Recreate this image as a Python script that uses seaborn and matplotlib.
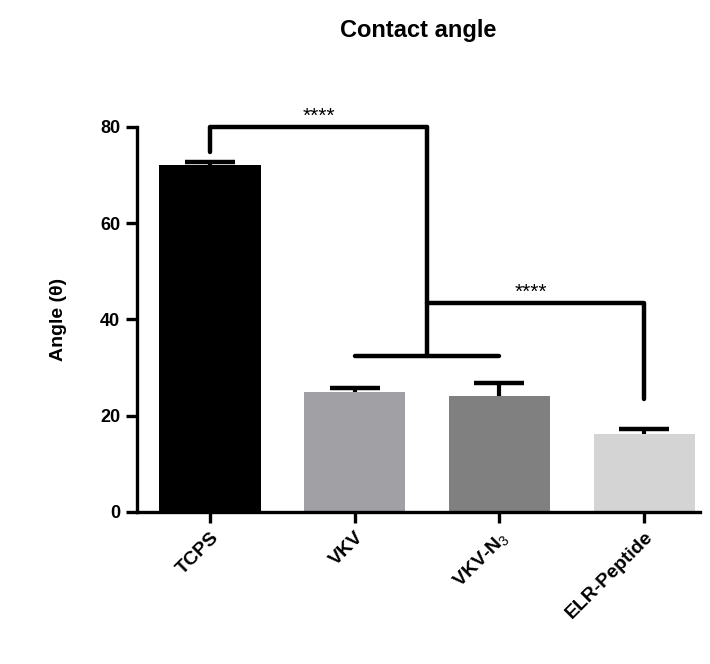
import pandas as pd
import matplotlib
matplotlib.use("Agg")
import matplotlib.pyplot as plt
import seaborn as sns

# Data
groups = ["TCPS", "VKV", "VKV-N$_3$", "ELR-Peptide"]
means = [72.1, 24.9, 24.0, 16.2]
errors = [0.5, 0.9, 2.7, 1.0]
bar_colors = ["#000000", "#a1a1a5", "#808080", "#d4d4d4"]

# significance brackets (y levels in data units)
bracket1_top = 80.0
bracket1_left_end = 74.8
bracket1_drop = 32.3
bracket2_top = 43.5
bracket2_right_end = 23.5
stars = "****"


def main():
    sns.set_theme(style="white")
    plt.rcParams["font.family"] = ["Liberation Sans", "DejaVu Sans"]
    plt.rcParams["mathtext.fontset"] = "custom"
    plt.rcParams["mathtext.rm"] = "Liberation Sans"
    plt.rcParams["text.color"] = "black"
    plt.rcParams["axes.labelcolor"] = "black"
    plt.rcParams["xtick.color"] = "black"
    plt.rcParams["ytick.color"] = "black"

    df = pd.DataFrame({"group": groups, "angle": means})

    fig = plt.figure(figsize=(7.1, 6.64), dpi=100)
    ax = fig.add_axes([0.193, 0.229, 0.793, 0.58])

    sns.barplot(data=df, x="group", y="angle", hue="group", palette=bar_colors,
                width=0.70, errorbar=None, legend=False, ax=ax, zorder=2,
                linewidth=0)

    x = list(range(len(groups)))
    # upper error bars only (GraphPad style)
    eb = ax.errorbar(x, means, yerr=[[0] * len(errors), errors], fmt="none",
                     ecolor="black", elinewidth=3, capsize=18, capthick=3.2, zorder=3)
    eb[1][0].set_visible(False)

    lw = 3.2
    kw = dict(color="black", lw=lw, solid_capstyle="round", clip_on=False, zorder=4)
    split = 1.5
    # bracket 1: TCPS vs (VKV, VKV-N3)
    ax.plot([0, 0, split], [bracket1_left_end, bracket1_top, bracket1_top], **kw)
    ax.plot([split, split], [bracket1_top, bracket1_drop], **kw)
    ax.plot([1, 2], [bracket1_drop, bracket1_drop], **kw)
    ax.text(split / 2, bracket1_top + 0.2, stars, ha="center", va="bottom",
            fontsize=15)
    # bracket 2: (VKV, VKV-N3) vs ELR-Peptide
    ax.plot([split, 3, 3], [bracket2_top, bracket2_top, bracket2_right_end], **kw)
    ax.text((split + 3) / 2 - 0.03, bracket2_top + 0.2, stars, ha="center", va="bottom",
            fontsize=15)

    ax.set_ylim(0, 80)
    ax.set_xlim(-0.503, 3.386)
    ax.set_yticks([0, 20, 40, 60, 80])
    ax.set_xlabel("")
    ax.set_ylabel("Angle (θ)", fontsize=14, fontweight="bold", labelpad=24)
    fig.text(0.589, 1 - 30 / 664, "Contact angle", ha="center", va="center",
             fontsize=17, fontweight="bold")

    for s in ["top", "right"]:
        ax.spines[s].set_visible(False)
    for s in ["left", "bottom"]:
        ax.spines[s].set_linewidth(2.4)
        ax.spines[s].set_color("black")

    ax.tick_params(axis="both", which="major", direction="out", length=8,
                   width=2.4, color="black", labelsize=13, pad=4,
                   left=True, bottom=True)
    for lab in ax.get_yticklabels():
        lab.set_fontweight("bold")
    ax.set_xticks(x)
    ax.set_xticklabels(groups, rotation=45, ha="right", rotation_mode="anchor",
                       fontweight="bold", fontsize=14)

    fig.savefig("out.png", dpi=100)


if __name__ == "__main__":
    main()
